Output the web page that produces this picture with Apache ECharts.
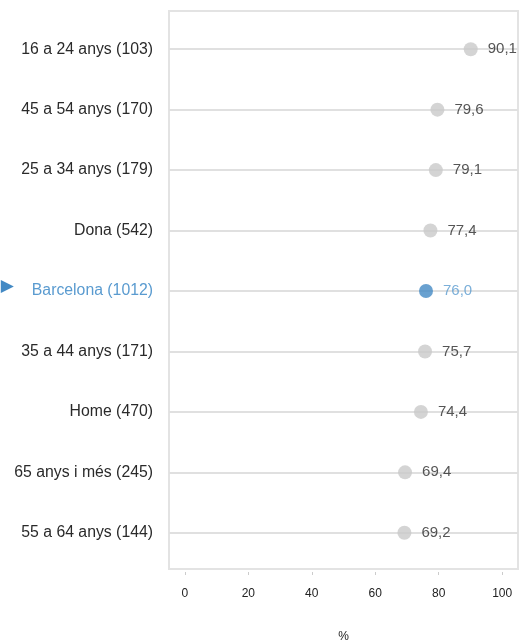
<!DOCTYPE html>
<html>
<head>
<meta charset="utf-8">
<script src="https://cdn.jsdelivr.net/npm/echarts@6/dist/echarts.min.js"></script>
<style>
  html, body { margin: 0; padding: 0; background: #fff; }
  #chart { width: 519px; height: 640px; }
</style>
</head>
<body>
<div id="chart"></div>
<script>
// dades (de dalt a baix)
const categories = [
    '16 a 24 anys (103)',
    '45 a 54 anys (170)',
    '25 a 34 anys (179)',
    'Dona (542)',
    'Barcelona (1012)',
    '35 a 44 anys (171)',
    'Home (470)',
    '65 anys i més (245)',
    '55 a 64 anys (144)'
];
const values = [90.1, 79.6, 79.1, 77.4, 76.0, 75.7, 74.4, 69.4, 69.2];
const highlight = 'Barcelona (1012)';
const xTicks = [0, 20, 40, 60, 80, 100];

const grey = '#c9c9c9';
const blue = '#4389c4';
const blueText = '#5a9bd0';
const font = 'Liberation Sans, Arial, sans-serif';

function fmt(v) {
    return v.toFixed(1).replace('.', ',');
}

let myChart = echarts.init(document.getElementById('chart'));

let points = values.map(function (v, i) {
    let isHl = categories[i] === highlight;
    return {
        value: [v, categories[i]],
        itemStyle: { color: isHl ? blue : grey },
        label: { color: isHl ? blueText : '#2a2a2a' }
    };
});

let option = {
    animation: false,
    textStyle: { fontFamily: font },
    grid: [
        // marc
        { left: 169, right: 1, top: 11, bottom: 71, show: true, borderColor: '#e3e3e3', borderWidth: 2, backgroundColor: 'transparent', outerBoundsMode: 'none' },
        // dades
        { left: 169, right: 1, top: 19, bottom: 77, outerBoundsMode: 'none' }
    ],
    xAxis: [
        { gridIndex: 0, type: 'value', show: false, min: 0, max: 1 },
        {
            gridIndex: 1,
            type: 'value',
            min: -5,
            max: 105,
            position: 'bottom',
            offset: 9,
            axisLine: { show: false },
            axisTick: { show: true, customValues: xTicks, length: 3, lineStyle: { color: '#cccccc', width: 1 } },
            axisLabel: { customValues: xTicks, margin: 16, fontSize: 12, color: '#222', fontFamily: font },
            splitLine: { show: false },
            name: '%',
            nameLocation: 'middle',
            nameGap: 59,
            nameTextStyle: { fontSize: 12, color: '#222', fontFamily: font }
        }
    ],
    yAxis: [
        { gridIndex: 0, type: 'value', show: false, min: 0, max: 1 },
        {
            gridIndex: 1,
            type: 'category',
            data: categories,
            inverse: true,
            axisLine: { show: false },
            axisTick: { show: false },
            splitLine: { show: false },
            axisLabel: {
                margin: 16,
                fontSize: 15.8,
                color: '#2a2a2a',
                fontFamily: font,
                formatter: function (v) {
                    return v === highlight ? '{arr|▶}{hl|' + v + '}' : v;
                },
                rich: {
                    arr: { color: blue, fontSize: 17, padding: [0, 18, 8, 0], fontFamily: 'DejaVu Sans' },
                    hl: { color: blueText, fontSize: 15.8, fontFamily: font }
                }
            }
        }
    ],
    series: [
        {
            // linies de fila
            type: 'scatter',
            xAxisIndex: 1,
            yAxisIndex: 1,
            data: [],
            z: 1,
            markLine: {
                silent: true,
                z: 1,
                symbol: 'none',
                label: { show: false },
                lineStyle: { color: '#e0e0e0', width: 2, type: 'solid' },
                data: categories.map(function (c) { return { yAxis: c }; })
            }
        },
        {
            type: 'scatter',
            xAxisIndex: 1,
            yAxisIndex: 1,
            z: 3,
            symbolSize: 14,
            data: points,
            label: {
                show: true,
                position: 'right',
                distance: 10,
                fontSize: 15,
                fontFamily: font,
                formatter: function (p) { return fmt(p.value[0]); }
            }
        }
    ]
};

myChart.setOption(option);
</script>
</body>
</html>
